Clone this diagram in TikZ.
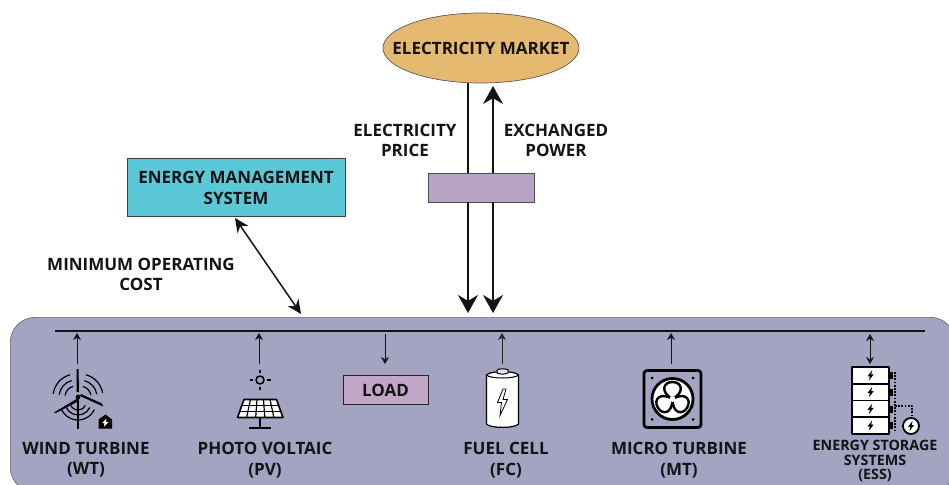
\documentclass[tikz,border=0pt]{standalone}
\usepackage{fontspec}
\setmainfont{Open Sans}[BoldFont={Open Sans Bold}]
\usetikzlibrary{arrows.meta,shapes.geometric,calc}
\definecolor{panelc}{HTML}{A3A3C2}
\definecolor{mktc}{HTML}{E5B96F}
\definecolor{purpc}{HTML}{B9A3C6}
\definecolor{loadc}{HTML}{C2A6C8}
\definecolor{emsc}{HTML}{5BC8D8}
\definecolor{inkc}{HTML}{141414}
\tikzset{
  lbl/.style={font=\fontsize{17}{20.5}\selectfont\bfseries,align=center,text=inkc,inner sep=0pt},
  lblsmall/.style={font=\fontsize{14.3}{14.5}\selectfont\bfseries,align=center,text=inkc,inner sep=0pt},
  bigarrow/.style={line width=1.5pt,inkc,-{Stealth[length=18pt,width=20pt]}},
  smallarrow/.style={line width=.8pt,inkc,-{Stealth[length=7pt,width=8pt]}},
  smalldouble/.style={line width=.8pt,inkc,{Stealth[length=7pt,width=8pt]}-{Stealth[length=7pt,width=8pt]}},
  icon/.style={line width=1.3pt,black,line join=round},
  boltic/.pic={\fill[black] (2,-6.5)--(-3.8,1.2)--(-.8,1.2)--(-2,6.5)--(3.8,-1.2)--(.8,-1.2)--cycle;}
}
\begin{document}
\begin{tikzpicture}[x=1pt,y=-1pt]
\useasboundingbox (0,0) rectangle (949,484);
\clip (0,0) rectangle (949,484);
% panel
\node[draw=gray!80!black,line width=.6pt,fill=panelc,rounded corners=25pt,minimum width=945pt,minimum height=175pt,anchor=north west,inner sep=0pt] (panel) at (10,317) {};
% coordinates
\coordinate (xa) at (468,0);
\coordinate (xb) at (493,0);
\coordinate (busl) at (55,331);
\coordinate (busr) at (925,331);
\draw[line width=1.3pt,inkc] (busl) -- (busr);
% market
\node[ellipse,draw=gray!70!black,line width=.7pt,fill=mktc,minimum width=196pt,minimum height=70pt,inner sep=0pt] (mkt) at (481,48) {};
\node[lbl] (mktl) at (481,48.5) {ELECTRICITY MARKET};
\node[draw=gray!60!black,line width=.7pt,fill=purpc,minimum width=106pt,minimum height=29pt,inner sep=0pt] (conv) at (481,187.5) {};
\coordinate (tipa) at (468,313);
\coordinate (tipb) at (493,313);
\coordinate (topb) at (493,86);
\draw[line width=1.5pt,inkc] (xa |- mkt.south) -- (xa |- conv.north);
\draw[bigarrow] (xa |- conv.south) -- (tipa);
\draw[bigarrow] (xb |- conv.north) -- (topb);
\draw[bigarrow] (xb |- conv.south) -- (tipb);
\node[lbl] (price) at (405,140.5) {ELECTRICITY\\PRICE};
\node[lbl] (exch) at (556,140.5) {EXCHANGED\\POWER};
% EMS
\node[draw=gray!50!black,line width=.7pt,fill=emsc,minimum width=218pt,minimum height=58pt,inner sep=0pt] (ems) at (236,187) {};
\node[lbl] (emsl) at (236,188) {ENERGY MANAGEMENT\\SYSTEM};
\coordinate (emsbus) at (301,314);
\draw[line width=1.5pt,inkc,{Stealth[length=14pt,width=13pt]}-{Stealth[length=14pt,width=13pt]}] (235,218) -- (emsbus);
\node[lbl] (cost) at (141,274.5) {MINIMUM OPERATING\\COST};
% stub arrows
\coordinate (wtt) at (77,364);
\coordinate (pvt) at (259,364);
\coordinate (ldt) at (385,334);
\coordinate (fct) at (502,364);
\coordinate (mtt) at (671,364);
\coordinate (est) at (870,334);
\draw[smallarrow] (wtt) -- (wtt |- 0,333);
\draw[smallarrow] (pvt) -- (pvt |- 0,333);
\node[draw=gray!30!black,line width=.7pt,fill=loadc,minimum width=85pt,minimum height=29pt,inner sep=0pt] (load) at (385.5,389.5) {};
\node[lbl] (loadl) at (385.5,390.5) {LOAD};
\draw[smallarrow] (ldt) -- (ldt |- 0,364);
\draw[smallarrow,gray!30!black] (fct) -- (fct |- 0,333);
\draw[smallarrow] (mtt) -- (mtt |- 0,333);
\draw[smalldouble] (est) -- (est |- 0,364);
% Wind turbine icon
\begin{scope}[icon]
  \fill[black] (78,397) circle (2.4);
  \fill[black] (76.5,369)--(78.5,369)--(79,392)--(76.5,392)--cycle;
  \fill[black] (76.5,399)--(54,412.5)--(56,413)--(79,401)--cycle;
  \fill[black] (80,396)--(103,406.5)--(102,403.5)--(81,394)--cycle;
  \draw[line width=2.2pt] (78,399)--(78,428.5);
  \foreach \r in {11,17,23}{
    \draw[line width=1.2pt] (76,397)++(-105:\r) arc[start angle=-105,end angle=-172,radius=\r];
    \draw[line width=1.2pt] (80,397)++(-75:\r) arc[start angle=-75,end angle=-10,radius=\r];
  }
  \foreach \r in {8,13,18}{
    \draw[line width=1.2pt] (78,402)++(25:\r) arc[start angle=25,end angle=155,radius=\r];
  }
  \fill[black] (105.5,414.5)--(112,419.5)--(112,428.5)--(98.5,428.5)--(98.5,419.5)--cycle;
  \fill[white] (106.5,418.5)--(102,423)--(104.5,423)--(104,426.5)--(108.5,422)--(106,422)--cycle;
  % Solar
  \draw[line width=1.5pt] (260,380) circle (4);
  \foreach \a/\b/\c/\d in {260/369.5/260/373,260/387/260/390,249.5/380/253/380,267/380/270.5/380}
    \draw[line width=1.3pt] (\a,\b)--(\c,\d);
  \draw[fill=white,line width=1.6pt] (244,399.5)--(276.5,399.5)--(283,417.5)--(237.5,417.5)--cycle;
  \foreach \t in {.33,.66}
    \draw[line width=1.2pt] ($(244,399.5)!\t!(237.5,417.5)$)--($(276.5,399.5)!\t!(283,417.5)$);
  \foreach \t in {.2,.4,.6,.8}
    \draw[line width=1.2pt] ($(244,399.5)!\t!(276.5,399.5)$)--($(237.5,417.5)!\t!(283,417.5)$);
  \draw[line width=1.6pt] (260,417.5)--(260,428) (249,428)--(271,428);
  % Battery
  \draw[fill=white,line width=1.2pt] (486.5,375)--(486.5,424) .. controls (490,428.5) and (515,428.5) .. (518.5,424)--(518.5,375) .. controls (515,370.5) and (490,370.5) .. (486.5,375)--cycle;
  \draw[line width=1pt] (486.5,375) .. controls (490,379) and (515,379) .. (518.5,375);
  \draw[fill=panelc!30!white,line width=1pt] (497,373)--(497,370) .. controls (497,368.5) and (508,368.5) .. (508,370)--(508,373) .. controls (505,374.5) and (500,374.5) .. (497,373)--cycle;
  \draw[line width=.8pt,fill=white,line join=miter] (503,389)--(497.5,402.5)--(501.5,402.5)--(500,415.5)--(507.5,399.5)--(503,399.5)--(506,389)--cycle;
  % Micro turbine
  \draw[line width=2.8pt,rounded corners=3pt] (644,370.5) rectangle (701,427.5);
  \draw[fill=white,line width=2.8pt] (672.5,399) circle (20.5);
  \foreach \a in {0,120,240}{
    \draw[rotate around={\a:(672.5,399)},line width=2.4pt,fill=white] (672.5,399) .. controls (660,392) and (663,382) .. (672.5,382) .. controls (682,382) and (685,392) .. (672.5,399) -- cycle;
  }
  \fill[white] (672.5,399) circle (3);
  \foreach \p in {(652,378),(693,378),(652,419.5),(693,419.5)} \fill[black] \p circle (1.5);
  % ESS
  \foreach \i in {0,1,2,3}{
    \pgfmathsetmacro{\yt}{367+\i*16.75}
    \draw[fill=white,line width=1.8pt] (852,\yt) rectangle (889,\yt+16.75);
    \pic[scale=.8] at (870.5,\yt+8.4) {boltic};
    \fill[black] (889,\yt+5) rectangle (892.5,\yt+12);
  }
  \draw[line width=1.5pt,dash pattern=on 1.8pt off 1.4pt] (895,372)--(895,431);
  \draw[line width=1.5pt,dash pattern=on 1.8pt off 1.4pt] (895,406)--(912,406)--(912,415);
  \draw[fill=white,line width=1.8pt] (911,426) circle (8);
  \pic[scale=.8] at (911,426) {boltic};
\end{scope}
% labels
\node[lbl] (wtl) at (86,460) {WIND TURBINE\\(WT)};
\node[lbl] (pvl) at (265,460) {PHOTO VOLTAIC\\(PV)};
\node[lbl] (fcl) at (506,460) {FUEL CELL\\(FC)};
\node[lbl] (mtl) at (679,460) {MICRO TURBINE\\(MT)};
\node[lblsmall] (esl) at (875,461) {ENERGY STORAGE\\SYSTEMS\\(ESS)};
\end{tikzpicture}
\end{document}
